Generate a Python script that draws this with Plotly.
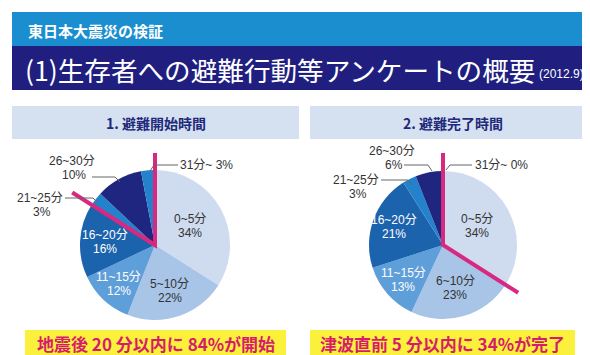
import math
import plotly.graph_objects as go

W, H = 590, 355

# ---------------- data ----------------
categories_start = ["0~5分", "5~10分", "11~15分", "16~20分", "21~25分", "26~30分", "31分~"]
values_start = [34, 22, 12, 16, 3, 10, 3]
categories_done = ["0~5分", "6~10分", "11~15分", "16~20分", "21~25分", "26~30分", "31分~"]
values_done = [34, 23, 13, 21, 3, 6, 0]

title_top = "東日本大震災の検証"
title_main = "(1)生存者への避難行動等アンケートの概要"
title_date = "(2012.9)"
panel_titles = ["1. 避難開始時間", "2. 避難完了時間"]
captions = ["地震後 20 分以内に 84%が開始", "津波直前 5 分以内に 34%が完了"]
# number of leading slices whose end boundary is highlighted
highlight_n = [4, 1]

# ---------------- styling ----------------
slice_colors = ["#cfdcef", "#a8c5e8", "#5e9ed9", "#1c63ae", "#2482cc", "#1f2680", "#2482cc"]
text_colors = ["#333333", "#333333", "#ffffff", "#ffffff"]
FONT = "Noto Sans CJK JP"
LBL_FONT = "Liberation Sans, Noto Sans CJK JP"
MAGENTA = "#d8287f"
LINE_GAP = 14


def px(x, y):
    return x / W, 1 - y / H


fig = go.Figure()

pies = [
    dict(cx=147, cy=237, r=75, cats=categories_start, vals=values_start,
         rf=[0.53, 0.64, 0.71, 0.67], Ltop=92, Ldiag=98),
    dict(cx=435, cy=237, r=74, cats=categories_done, vals=values_done,
         rf=[0.53, 0.60, 0.72, 0.71], Ltop=92, Ldiag=89),
]

shapes = []
annotations = []


def add_text(text, x, y, size, color, anchor="center", family=FONT):
    ax, ay = px(x, y)
    annotations.append(dict(text=text, x=ax, y=ay, xref="paper", yref="paper",
                            xanchor=anchor, yanchor="middle", showarrow=False,
                            font=dict(family=family, size=size, color=color)))


# header bands
shapes.append(dict(type="rect", xref="paper", yref="paper", x0=4 / W, x1=586 / W,
                   y0=1 - 38 / H, y1=1 - 4 / H, fillcolor="#1b8ecf", line_width=0, layer="below"))
shapes.append(dict(type="rect", xref="paper", yref="paper", x0=4 / W, x1=587 / W,
                   y0=1 - 82 / H, y1=1 - 38 / H, fillcolor="#201f7f", line_width=0, layer="below"))
add_text(f"<b>{title_top}</b>", 18, 22, 15, "white", "left")
add_text(title_main, 15, 61, 26.6, "white", "left")
add_text(title_date, 529, 66, 12, "white", "left", "Liberation Sans")

panel_boxes = [(4, 291), (302, 588)]
cap_boxes = [(17, 278), (302, 567)]

for i, p in enumerate(pies):
    # panel header
    bx0, bx1 = panel_boxes[i]
    shapes.append(dict(type="rect", xref="paper", yref="paper", x0=bx0 / W, x1=bx1 / W,
                       y0=1 - 131 / H, y1=1 - 98 / H, fillcolor="#d5e1f1", line_width=0, layer="below"))
    add_text(f"<b>{panel_titles[i]}</b>", (bx0 + bx1) / 2, 115, 14, "#1f2a7a")
    # caption
    cx0, cx1 = cap_boxes[i]
    shapes.append(dict(type="rect", xref="paper", yref="paper", x0=cx0 / W, x1=cx1 / W,
                       y0=1 - 347 / H, y1=1 - 322 / H, fillcolor="#fbf03c", line_width=0, layer="below"))
    add_text(f"<b>{captions[i]}</b>", (cx0 + cx1) / 2, 335, 17, "#d61d6c")

    # pie
    cx, cy, r = p["cx"], p["cy"], p["r"]
    fig.add_trace(go.Pie(
        labels=p["cats"], values=p["vals"], sort=False, direction="clockwise", rotation=0,
        marker=dict(colors=slice_colors, line=dict(width=0)),
        textinfo="none", hoverinfo="label+percent", showlegend=False,
        domain=dict(x=[(cx - r) / W, (cx + r) / W], y=[1 - (cy + r) / H, 1 - (cy - r) / H]),
    ))

    total = sum(p["vals"])
    cum = 0
    for k, v in enumerate(p["vals"]):
        if k < 4:
            mid = (cum + v / 2) / total * 2 * math.pi
            rr = r * p["rf"][k]
            tx = cx + math.sin(mid) * rr
            ty = cy - math.cos(mid) * rr
            add_text(p["cats"][k], tx, ty - LINE_GAP / 2, 12, text_colors[k], family=LBL_FONT)
            add_text(f"{v}%", tx, ty + LINE_GAP / 2, 12, text_colors[k], family=LBL_FONT)
        cum += v

    # magenta highlight lines (derived from cumulative share)
    frac = sum(p["vals"][:highlight_n[i]]) / total
    ang = frac * 2 * math.pi
    ex = cx + math.sin(ang) * p["Ldiag"]
    ey = cy - math.cos(ang) * p["Ldiag"]
    x0, y0 = px(ex, ey)
    x1, y1 = px(cx, cy)
    x2, y2 = px(cx, cy - p["Ltop"])
    shapes.append(dict(type="path", xref="paper", yref="paper",
                       path=f"M {x0} {y0} L {x1} {y1} L {x2} {y2}",
                       line=dict(color=MAGENTA, width=4), layer="above"))

# outside labels (small slices) with leader lines
outside = [
    # (pie index, slice index, text x, text y (first line), leader path pixels)
    (0, 5, 64, 153, [(84, 169), (107, 169), (112, 174)]),
    (0, 4, 32, 190, [(57, 190), (85, 190), (89, 194)]),
    (0, 6, 198, 157, [(142, 163), (146, 157), (170, 157)]),
    (1, 5, 384, 143, [(396, 157), (420, 157), (424, 163)]),
    (1, 4, 348, 172, [(373, 172), (400, 172), (404, 177)]),
    (1, 6, 493, 157, [(438, 162), (442, 157), (464, 157)]),
]
for pi, si, tx, ty, path in outside:
    p = pies[pi]
    name = p["cats"][si]
    v = p["vals"][si]
    if si == 6:
        add_text(f"{name} {v}%", tx, ty, 12, "#333333", family=LBL_FONT)
    else:
        add_text(name, tx, ty, 12, "#333333", family=LBL_FONT)
        add_text(f"{v}%", tx + 2, ty + LINE_GAP, 12, "#333333", family=LBL_FONT)
    pts = [px(a, b) for a, b in path]
    d = "M " + " L ".join(f"{a} {b}" for a, b in pts)
    shapes.append(dict(type="path", xref="paper", yref="paper", path=d,
                       line=dict(color="#666666", width=1), layer="above"))

fig.update_layout(
    width=W, height=H, margin=dict(l=0, r=0, t=0, b=0),
    paper_bgcolor="white", plot_bgcolor="white",
    shapes=shapes, annotations=annotations,
    font=dict(family=FONT),
)

fig.write_html("out.html")
